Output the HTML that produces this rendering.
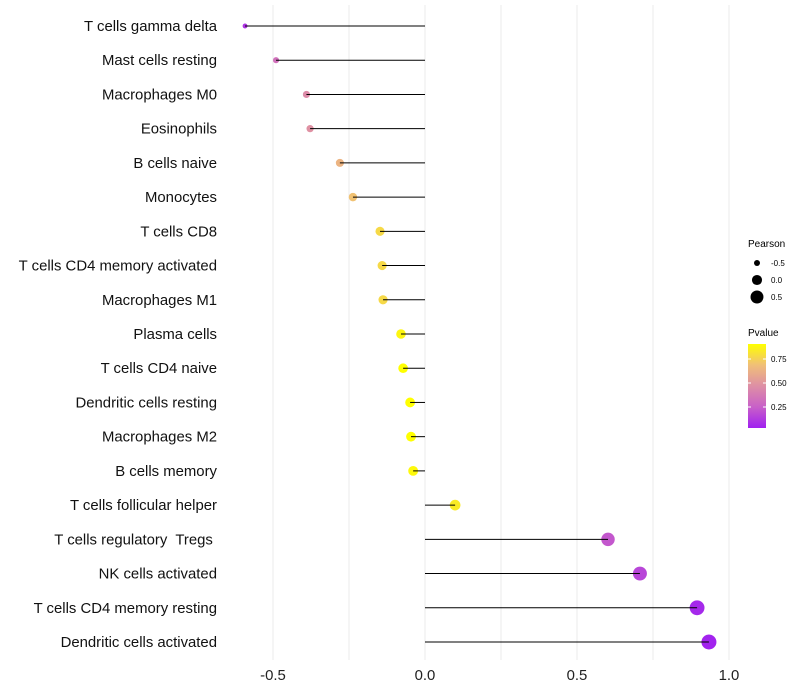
<!DOCTYPE html>
<html><head><meta charset="utf-8"><style>
body{margin:0;background:#fff;}
svg{display:block;font-family:"Liberation Sans",sans-serif;}
text{white-space:pre;}
</style></head><body>
<svg id="chart" width="800" height="700"></svg>
<script>
const categories=["T cells gamma delta","Mast cells resting","Macrophages M0","Eosinophils","B cells naive","Monocytes","T cells CD8","T cells CD4 memory activated","Macrophages M1","Plasma cells","T cells CD4 naive","Dendritic cells resting","Macrophages M2","B cells memory","T cells follicular helper","T cells regulatory  Tregs ","NK cells activated","T cells CD4 memory resting","Dendritic cells activated"];
const pearson=[-0.592,-0.49,-0.39,-0.378,-0.28,-0.237,-0.148,-0.141,-0.138,-0.079,-0.072,-0.049,-0.046,-0.039,0.099,0.602,0.707,0.895,0.934];
const pvalues=[0.1,0.33,0.45,0.48,0.64,0.7,0.78,0.78,0.78,0.88,0.92,0.91,0.92,0.89,0.84,0.22,0.16,0.06,0.04];
const xTicks=[-0.5,0,0.5,1.0];
const xTickLabels=["-0.5","0.0","0.5","1.0"];
const minorTicks=[-0.25,0.25,0.75];
const sizeLegend=[-0.5,0,0.5];
const colorTicks=[0.25,0.5,0.75];

const NS="http://www.w3.org/2000/svg";
const svg=document.getElementById('chart');
function el(t,a,p){const e=document.createElementNS(NS,t);for(const k in a)e.setAttribute(k,a[k]);(p||svg).appendChild(e);return e;}
const xS=v=>425+v*304;
const yS=i=>26+i*(616/18);
const rS=v=>Math.sqrt(Math.max(2,25.5+33*v));
const stops=[[160,32,240],[200,96,200],[222,143,165],[240,191,120],[255,255,0]];
function col(p){let t=(p-0.03)/0.88;t=Math.max(0,Math.min(1,t));const s=t*4,i=Math.min(3,Math.floor(s)),f=s-i;
const c=stops[i].map((v,k)=>Math.round(v+(stops[i+1][k]-v)*f));return `rgb(${c})`;}

minorTicks.concat(xTicks).forEach(v=>{const g=el('line',{x1:xS(v),x2:xS(v),y1:5,y2:660,stroke:'#ebebeb','stroke-width':1});

});
xTicks.forEach((v,i)=>{const t=el('text',{x:xS(v),y:680,'text-anchor':'middle','font-size':14.9,fill:'#222'});t.textContent=xTickLabels[i];

});
categories.forEach((c,i)=>{
const y=yS(i);
const t=el('text',{x:217,y:y+5,'text-anchor':'end','font-size':14.9,fill:'#111'});t.textContent=c;
t.setAttribute('xml:space','preserve');


const d=el('circle',{cx:xS(pearson[i]),cy:y,r:rS(pearson[i]),fill:col(pvalues[i])});


const l=el('line',{x1:xS(0),x2:xS(pearson[i]),y1:y,y2:y,stroke:'#000','stroke-width':1});


});
let t=el('text',{x:748,y:247,'font-size':10});t.textContent='Pearson';


sizeLegend.forEach((v,i)=>{const y=263+i*17;
const c=el('circle',{cx:757,cy:y,r:rS(v),fill:'#000'});


const tt=el('text',{x:771,y:y+3,'font-size':8});tt.textContent=v===0?'0.0':String(v);

});
t=el('text',{x:748,y:336,'font-size':10});t.textContent='Pvalue';


const defs=el('defs',{});const lg=el('linearGradient',{id:'pg',x1:0,y1:1,x2:0,y2:0},defs);
stops.forEach((s,i)=>el('stop',{offset:i/4,'stop-color':`rgb(${s})`},lg));
const cb=el('rect',{x:748,y:344,width:18,height:84,fill:'url(#pg)'});


const cy=p=>431-p*96;
colorTicks.forEach(p=>{el('line',{x1:748,x2:751,y1:cy(p),y2:cy(p),stroke:'#fff'});el('line',{x1:763,x2:766,y1:cy(p),y2:cy(p),stroke:'#fff'});
const tt=el('text',{x:771,y:cy(p)+3,'font-size':8});tt.textContent=p.toFixed(2);

});
</script>
</body></html>
